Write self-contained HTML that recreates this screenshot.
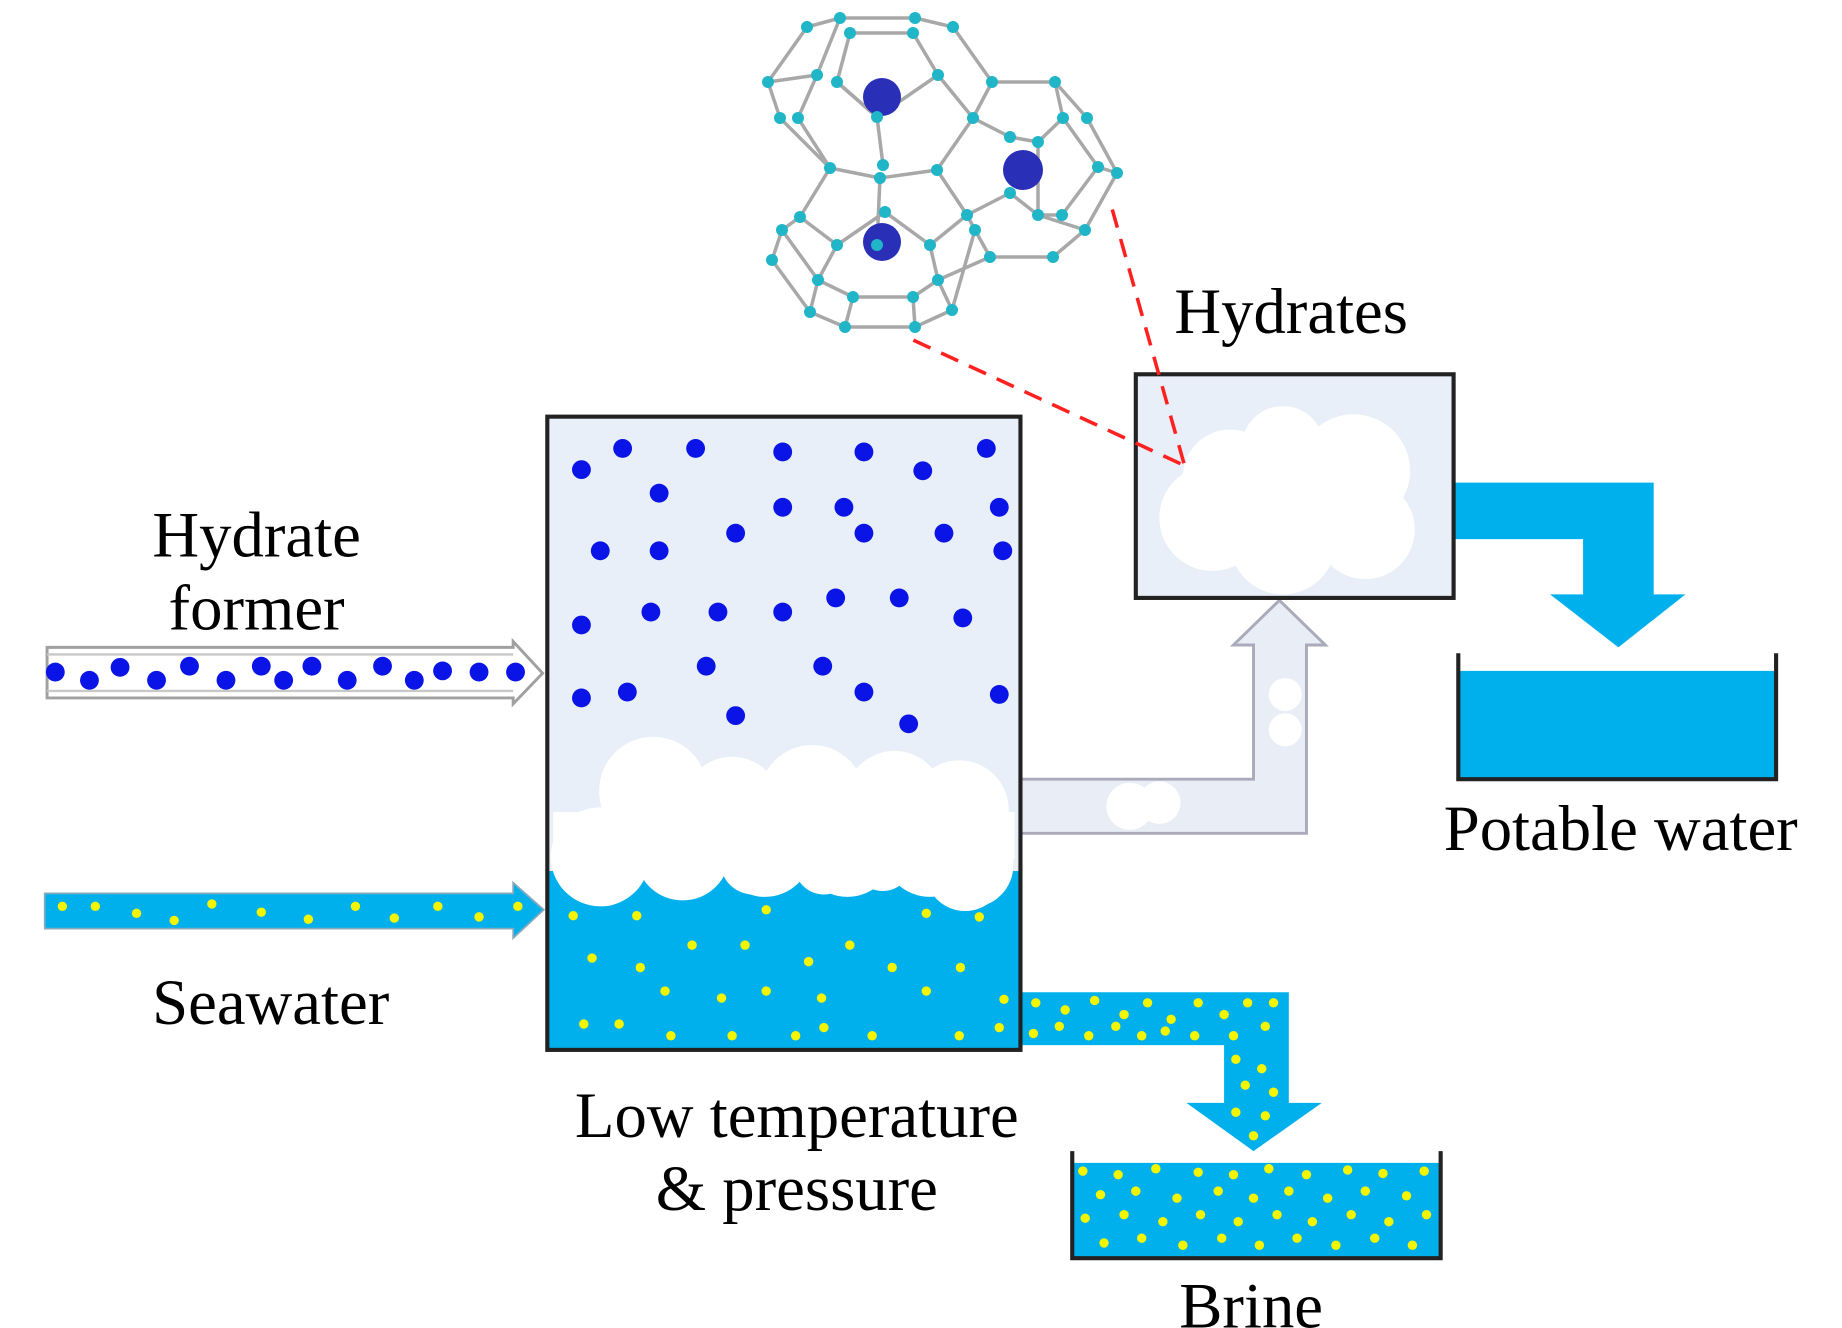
<!DOCTYPE html>
<html><head><meta charset="utf-8"><style>
html,body{margin:0;padding:0;background:#fff}
svg{display:block}
text{font-family:"Liberation Serif",serif;fill:#000}
</style></head><body>
<svg width="1842" height="1328" viewBox="0 0 1842 1328" xmlns="http://www.w3.org/2000/svg">
<!-- molecule (actual coords) -->
<g stroke="#a8a8a8" stroke-width="3.5" fill="none" stroke-linejoin="round">
<polyline points="807,27 840,18 915,18 953,27 992,82 973,118 937,170 880,178 830,168 780,118 768,82 807,27"/>
<polyline points="850,33 913,33"/>
<polyline points="840,18 817,75 798,118 830,168"/>
<polyline points="850,33 837,82 877,117 883,165"/>
<polyline points="913,33 938,75 973,118"/>
<polyline points="817,75 768,82"/>
<polyline points="938,75 877,117 837,82"/>
<polyline points="992,82 1055,82 1087,118 1117,173 1085,230 1053,257 990,257 975,230 967,215 937,170"/>
<polyline points="973,118 1010,137 1038,142 1063,118 1055,82"/>
<polyline points="1063,118 1098,167 1062,215 1038,215 1010,193 967,215"/>
<polyline points="1038,142 1038,215 1085,230"/>
<polyline points="1098,167 1117,173"/>
<polyline points="830,168 800,217 782,230 772,260 810,312 845,327 915,327 952,310 975,230"/>
<polyline points="818,280 853,297 913,297 938,280 930,245 885,212 837,245 818,280"/>
<polyline points="877,245 880,178"/>
<polyline points="800,217 837,245"/>
<polyline points="938,280 952,310"/>
<polyline points="990,257 938,280"/>
<polyline points="967,215 930,245"/>
<polyline points="810,312 818,280 782,230"/>
<polyline points="853,297 845,327"/>
<polyline points="913,297 915,327"/>
</g>
<g fill="#2a2fb8">
<circle cx="882" cy="97" r="19"/><circle cx="1023" cy="170" r="20"/><circle cx="882" cy="242" r="19"/>
</g>
<g fill="#20b6c8">
<circle cx="840" cy="18" r="6"/><circle cx="915" cy="18" r="6"/><circle cx="807" cy="27" r="6"/><circle cx="953" cy="27" r="6"/><circle cx="850" cy="33" r="6"/><circle cx="913" cy="33" r="6"/>
<circle cx="768" cy="82" r="6"/><circle cx="817" cy="75" r="6"/><circle cx="837" cy="82" r="6"/><circle cx="938" cy="75" r="6"/><circle cx="992" cy="82" r="6"/><circle cx="1055" cy="82" r="6"/>
<circle cx="780" cy="118" r="6"/><circle cx="798" cy="118" r="6"/><circle cx="877" cy="117" r="6"/><circle cx="973" cy="118" r="6"/><circle cx="1063" cy="118" r="6"/><circle cx="1087" cy="118" r="6"/>
<circle cx="1010" cy="137" r="6"/><circle cx="1038" cy="142" r="6"/><circle cx="830" cy="168" r="6"/><circle cx="883" cy="165" r="6"/><circle cx="880" cy="178" r="6"/><circle cx="937" cy="170" r="6"/><circle cx="1098" cy="167" r="6"/><circle cx="1117" cy="173" r="6"/>
<circle cx="1010" cy="193" r="6"/><circle cx="800" cy="217" r="6"/><circle cx="885" cy="212" r="6"/><circle cx="967" cy="215" r="6"/><circle cx="1038" cy="215" r="6"/><circle cx="1062" cy="215" r="6"/><circle cx="975" cy="230" r="6"/><circle cx="1085" cy="230" r="6"/>
<circle cx="782" cy="230" r="6"/><circle cx="772" cy="260" r="6"/><circle cx="837" cy="245" r="6"/><circle cx="877" cy="245" r="6"/><circle cx="930" cy="245" r="6"/><circle cx="990" cy="257" r="6"/><circle cx="1053" cy="257" r="6"/>
<circle cx="818" cy="280" r="6"/><circle cx="938" cy="280" r="6"/><circle cx="853" cy="297" r="6"/><circle cx="913" cy="297" r="6"/><circle cx="810" cy="312" r="6"/><circle cx="952" cy="310" r="6"/><circle cx="845" cy="327" r="6"/><circle cx="915" cy="327" r="6"/>
</g>

<g transform="scale(1.177)">
<!-- Hydrate former arrow -->
<polygon points="40,550 436,550 436,545 461,572 436,598 436,593 40,593" fill="#fff" stroke="#a0a0a0" stroke-width="2.5"/>
<line x1="40" y1="556" x2="436" y2="556" stroke="#c8c8c8" stroke-width="2"/>
<line x1="40" y1="587" x2="436" y2="587" stroke="#c8c8c8" stroke-width="2"/>
<g fill="#0a14e6">
<circle cx="47" cy="571" r="8"/><circle cx="76" cy="578" r="8"/><circle cx="102" cy="567" r="8"/><circle cx="133" cy="578" r="8"/><circle cx="161" cy="566" r="8"/><circle cx="192" cy="578" r="8"/><circle cx="222" cy="566" r="8"/><circle cx="241" cy="578" r="8"/><circle cx="265" cy="566" r="8"/><circle cx="295" cy="578" r="8"/><circle cx="325" cy="566" r="8"/><circle cx="352" cy="578" r="8"/><circle cx="376" cy="570" r="8"/><circle cx="407" cy="571" r="8"/><circle cx="438" cy="571" r="8"/>
</g>

<!-- Seawater arrow -->
<polygon points="38,759 436,759 436,750 462,773 436,797 436,789 38,789" fill="#00b0ec" stroke="#8ab" stroke-width="1.5"/>

<!-- gray pipe up to hydrates -->
<polygon points="866,662 1065,662 1065,548 1048,548 1087,510 1126,548 1110,548 1110,708 866,708" fill="#e9eef6" stroke="#aab" stroke-width="2.5"/>
<g fill="#fff"><circle cx="960" cy="685" r="20"/><circle cx="985" cy="682" r="18"/><circle cx="1092" cy="590" r="14"/><circle cx="1092" cy="620" r="14"/></g>

<!-- potable arrow -->
<polygon points="1236,410 1405,410 1405,505 1432,505 1375,550 1317,505 1345,505 1345,458 1236,458" fill="#00b0ec"/>
<rect x="1239" y="570" width="270" height="92" fill="#00b0ec"/>
<polyline points="1239,555 1239,662 1509,662 1509,555" fill="none" stroke="#222" stroke-width="3.5"/>

<!-- brine pipe -->
<polygon points="866,843 1095,843 1095,937 1123,937 1065,978 1008,937 1040,937 1040,888 866,888" fill="#00b0ec"/>
<rect x="911" y="988" width="313" height="81" fill="#00b0ec"/>
<polyline points="911,978 911,1069 1224,1069 1224,978" fill="none" stroke="#222" stroke-width="3.5"/>

<!-- tank -->
<rect x="465" y="354" width="402" height="538" fill="#e9eff8"/>
<rect x="465" y="740" width="402" height="152" fill="#00b0ec"/>
<g fill="#fff">
<circle cx="555" cy="672" r="46"/><circle cx="622" cy="685" r="42"/><circle cx="690" cy="678" r="45"/><circle cx="760" cy="680" r="42"/><circle cx="815" cy="688" r="42"/>
<circle cx="510" cy="728" r="42"/><circle cx="580" cy="725" r="40"/><circle cx="650" cy="722" r="40"/><circle cx="720" cy="722" r="40"/><circle cx="790" cy="722" r="40"/><circle cx="825" cy="735" r="36"/>
<circle cx="512" cy="738" r="32"/><circle cx="570" cy="735" r="25"/><circle cx="640" cy="732" r="28"/><circle cx="700" cy="735" r="25"/><circle cx="750" cy="732" r="25"/><circle cx="820" cy="740" r="34"/>
<rect x="470" y="690" width="392" height="40"/>
</g>
<rect x="465" y="354" width="402" height="538" fill="none" stroke="#222" stroke-width="3.5"/>
<g fill="#0a14e6">
<circle cx="494" cy="399" r="8"/><circle cx="529" cy="381" r="8"/><circle cx="591" cy="381" r="8"/><circle cx="665" cy="384" r="8"/><circle cx="734" cy="384" r="8"/><circle cx="784" cy="400" r="8"/><circle cx="838" cy="381" r="8"/><circle cx="560" cy="419" r="8"/><circle cx="665" cy="431" r="8"/><circle cx="717" cy="431" r="8"/><circle cx="849" cy="431" r="8"/><circle cx="625" cy="453" r="8"/><circle cx="734" cy="453" r="8"/><circle cx="802" cy="453" r="8"/><circle cx="510" cy="468" r="8"/><circle cx="560" cy="468" r="8"/><circle cx="852" cy="468" r="8"/><circle cx="494" cy="531" r="8"/><circle cx="553" cy="520" r="8"/><circle cx="610" cy="520" r="8"/><circle cx="665" cy="520" r="8"/><circle cx="710" cy="508" r="8"/><circle cx="764" cy="508" r="8"/><circle cx="818" cy="525" r="8"/><circle cx="600" cy="566" r="8"/><circle cx="699" cy="566" r="8"/><circle cx="494" cy="593" r="8"/><circle cx="533" cy="588" r="8"/><circle cx="734" cy="588" r="8"/><circle cx="849" cy="590" r="8"/><circle cx="625" cy="608" r="8"/><circle cx="772" cy="615" r="8"/>
</g>

<!-- hydrates box -->
<rect x="965" y="318" width="270" height="190" fill="#e9eff8"/>
<g fill="#fff">
<circle cx="1045" cy="405" r="40"/><circle cx="1150" cy="400" r="48"/><circle cx="1030" cy="440" r="45"/><circle cx="1160" cy="450" r="42"/><circle cx="1090" cy="460" r="45"/><circle cx="1110" cy="415" r="50"/><circle cx="1090" cy="380" r="35"/>
</g>
<rect x="965" y="318" width="270" height="190" fill="none" stroke="#222" stroke-width="3.5"/>

<!-- red dashes -->
<g stroke="#ff2020" stroke-width="3" stroke-dasharray="16,10" fill="none">
<line x1="776" y1="289" x2="1003" y2="394"/>
<line x1="945" y1="178" x2="1006" y2="394"/>
</g>

<!-- yellow dots -->
<g fill="#f5f500">
<circle cx="53" cy="770" r="4"/><circle cx="81" cy="770" r="4"/><circle cx="116" cy="776" r="4"/><circle cx="148" cy="782" r="4"/><circle cx="180" cy="768" r="4"/><circle cx="222" cy="775" r="4"/><circle cx="262" cy="781" r="4"/><circle cx="302" cy="770" r="4"/><circle cx="335" cy="780" r="4"/><circle cx="372" cy="770" r="4"/><circle cx="407" cy="779" r="4"/><circle cx="440" cy="770" r="4"/>
<circle cx="487" cy="778" r="4"/><circle cx="541" cy="778" r="4"/><circle cx="651" cy="773" r="4"/><circle cx="787" cy="776" r="4"/><circle cx="832" cy="779" r="4"/><circle cx="503" cy="814" r="4"/><circle cx="544" cy="822" r="4"/><circle cx="588" cy="803" r="4"/><circle cx="633" cy="803" r="4"/><circle cx="687" cy="817" r="4"/><circle cx="722" cy="803" r="4"/><circle cx="758" cy="822" r="4"/><circle cx="816" cy="822" r="4"/><circle cx="565" cy="842" r="4"/><circle cx="613" cy="848" r="4"/><circle cx="651" cy="842" r="4"/><circle cx="698" cy="848" r="4"/><circle cx="787" cy="842" r="4"/><circle cx="853" cy="849" r="4"/><circle cx="496" cy="870" r="4"/><circle cx="526" cy="870" r="4"/><circle cx="570" cy="880" r="4"/><circle cx="622" cy="880" r="4"/><circle cx="676" cy="880" r="4"/><circle cx="700" cy="873" r="4"/><circle cx="741" cy="880" r="4"/><circle cx="815" cy="880" r="4"/><circle cx="849" cy="873" r="4"/>
<circle cx="880" cy="852" r="4"/><circle cx="905" cy="858" r="4"/><circle cx="930" cy="850" r="4"/><circle cx="955" cy="862" r="4"/><circle cx="975" cy="852" r="4"/><circle cx="995" cy="866" r="4"/><circle cx="1018" cy="852" r="4"/><circle cx="1040" cy="862" r="4"/><circle cx="1060" cy="852" r="4"/><circle cx="1082" cy="852" r="4"/>
<circle cx="878" cy="878" r="4"/><circle cx="900" cy="872" r="4"/><circle cx="925" cy="880" r="4"/><circle cx="948" cy="872" r="4"/><circle cx="970" cy="880" r="4"/><circle cx="990" cy="876" r="4"/><circle cx="1015" cy="880" r="4"/><circle cx="1048" cy="880" r="4"/><circle cx="1075" cy="872" r="4"/>
<circle cx="1050" cy="900" r="4"/><circle cx="1072" cy="908" r="4"/><circle cx="1058" cy="922" r="4"/><circle cx="1082" cy="928" r="4"/><circle cx="1050" cy="945" r="4"/><circle cx="1075" cy="948" r="4"/><circle cx="1065" cy="965" r="4"/>
<circle cx="920" cy="995" r="4"/><circle cx="950" cy="998" r="4"/><circle cx="982" cy="993" r="4"/><circle cx="1018" cy="996" r="4"/><circle cx="1048" cy="998" r="4"/><circle cx="1078" cy="993" r="4"/><circle cx="1110" cy="998" r="4"/><circle cx="1145" cy="994" r="4"/><circle cx="1175" cy="997" r="4"/><circle cx="1210" cy="995" r="4"/>
<circle cx="935" cy="1015" r="4"/><circle cx="965" cy="1012" r="4"/><circle cx="1000" cy="1018" r="4"/><circle cx="1035" cy="1012" r="4"/><circle cx="1065" cy="1018" r="4"/><circle cx="1095" cy="1012" r="4"/><circle cx="1128" cy="1018" r="4"/><circle cx="1160" cy="1012" r="4"/><circle cx="1195" cy="1016" r="4"/>
<circle cx="922" cy="1035" r="4"/><circle cx="955" cy="1032" r="4"/><circle cx="988" cy="1038" r="4"/><circle cx="1020" cy="1032" r="4"/><circle cx="1052" cy="1038" r="4"/><circle cx="1085" cy="1032" r="4"/><circle cx="1115" cy="1038" r="4"/><circle cx="1148" cy="1032" r="4"/><circle cx="1180" cy="1038" r="4"/><circle cx="1212" cy="1032" r="4"/>
<circle cx="938" cy="1056" r="4"/><circle cx="970" cy="1052" r="4"/><circle cx="1005" cy="1058" r="4"/><circle cx="1038" cy="1052" r="4"/><circle cx="1070" cy="1058" r="4"/><circle cx="1102" cy="1052" r="4"/><circle cx="1135" cy="1058" r="4"/><circle cx="1168" cy="1052" r="4"/><circle cx="1200" cy="1058" r="4"/>
</g>

<!-- labels -->
<g font-size="55">
<text x="218" y="473" text-anchor="middle">Hydrate</text>
<text x="218" y="535" text-anchor="middle">former</text>
<text x="230" y="870" text-anchor="middle">Seawater</text>
<text x="677" y="966" text-anchor="middle">Low temperature</text>
<text x="677" y="1028" text-anchor="middle">&amp; pressure</text>
<text x="1063" y="1128" text-anchor="middle">Brine</text>
<text x="1377" y="722" text-anchor="middle">Potable water</text>
<text x="1097" y="283" text-anchor="middle">Hydrates</text>
</g>
</g>
</svg>
</body></html>
